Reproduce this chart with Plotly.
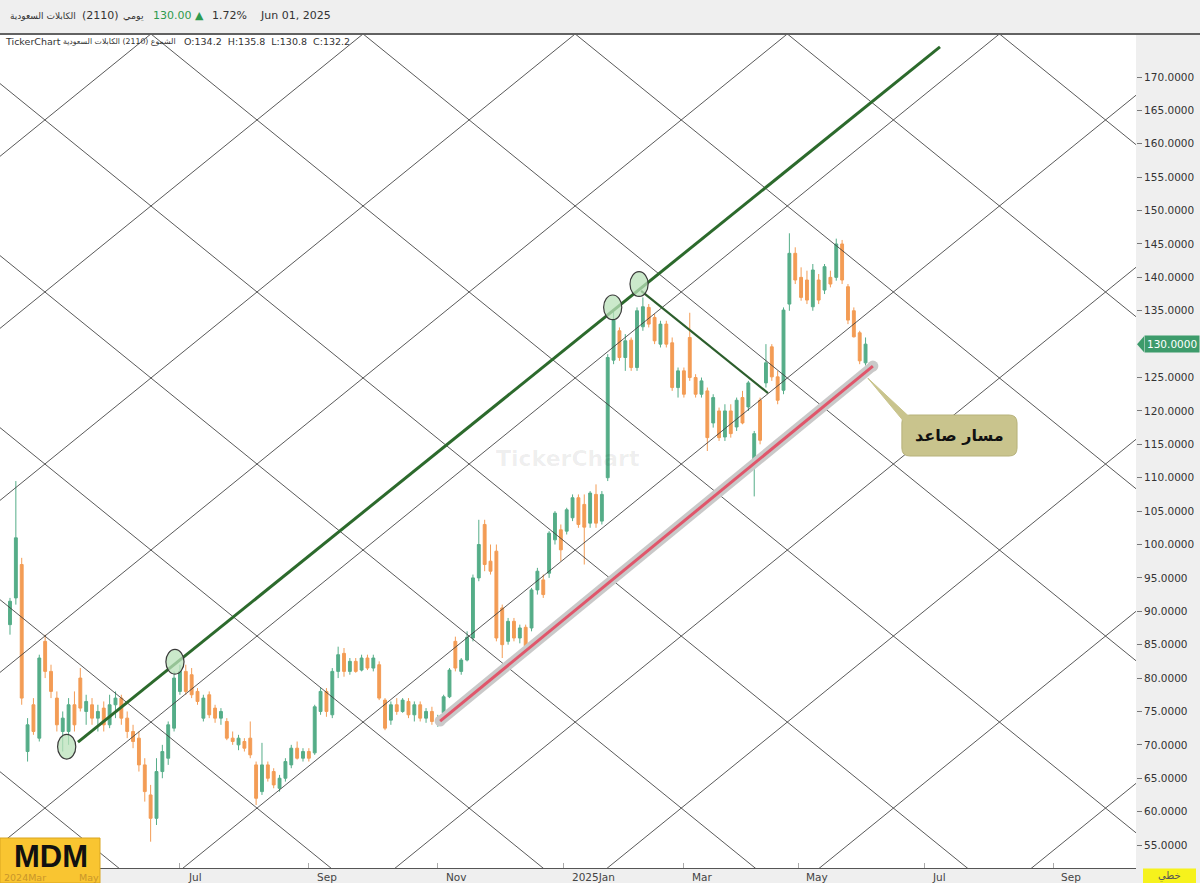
import pandas as pd
import plotly.graph_objects as go

# ---------------- trading calendar (Tadawul: Sun-Thu) ----------------
HOLIDAYS = ["2024-04-07", "2024-04-08", "2024-04-09", "2024-04-10", "2024-04-11", "2024-04-14",
            "2024-06-13", "2024-06-16", "2024-06-17", "2024-06-18", "2024-06-19", "2024-06-20",
            "2024-09-23", "2025-02-23",
            "2025-03-30", "2025-03-31", "2025-04-01", "2025-04-02", "2025-04-03"]
CAL = pd.bdate_range("2024-02-01", "2025-12-31", freq="C",
                     weekmask="Sun Mon Tue Wed Thu", holidays=HOLIDAYS)
ORIGIN = pd.Timestamp("2024-03-25")
I0 = CAL.get_loc(ORIGIN)


def bar(d):
    return int(CAL.get_indexer([pd.Timestamp(d)], method="bfill")[0] - I0)


# ---------------- price data (one candle per two sessions) ----------------
OPEN = [88, 92, 97, 69, 76, 71, 85.5, 81, 77, 72, 72, 76, 80, 75, 76, 74, 75.5, 73, 76, 77,
        74, 72, 71, 67, 62.5, 59, 66, 68, 72.5, 78, 81, 80.5, 78, 74, 77.5, 75.5, 74, 73.5, 71, 70,
        70.5, 71, 67, 63, 67, 66, 63.5, 65, 67, 69.5, 68, 69, 68.8, 75, 78, 74.5, 81, 83.7, 81, 82.5,
        81.2, 83, 81.5, 82, 76.7, 73.7, 76, 75, 76.5, 74.5, 76, 74, 75, 73.5, 74.8, 77.2, 85.5, 81, 82.7, 86,
        95, 103, 97.5, 99, 90.5, 85.5, 88.5, 86, 87.6, 87.5, 93.2, 94.7, 95.7, 100.7, 102.2, 102, 104, 107, 106, 103.2,
        107.5, 103.5, 110, 127.6, 132, 128, 130.6, 126.5, 132.6, 135.5, 134, 130, 133, 130.2, 123.5, 126, 131, 125, 122.5, 123,
        118.2, 120, 116.1, 120, 117.6, 122, 120.6, 112.6, 121.6, 124.2, 129.6, 125.1, 123.1, 136, 143.6, 140, 139.6, 135.6, 139.6, 138.1,
        140, 140, 145, 138.6, 135, 131.7, 127.2]
HIGH = [92, 109.5, 98, 74, 77, 83.5, 86.5, 82, 78, 75, 77, 78, 81.5, 77.5, 77, 76, 76.5, 77.5, 78, 77.5,
        75, 73, 72, 68, 64, 68, 70, 73.5, 81, 82, 82, 81.5, 78.5, 77.5, 78, 76, 75.5, 74, 72, 71.5,
        71, 73.5, 67.5, 70.3, 67.5, 66.5, 65.5, 68, 70, 70.5, 69.5, 69.5, 76, 78.5, 78.5, 81.5, 84.7, 84.5, 83, 83,
        83.5, 83.5, 83.5, 82.5, 77, 76.5, 77, 77, 77, 76.5, 76.5, 75.5, 75.7, 74.5, 77.5, 81.5, 86.2, 83, 87, 95.5,
        103.7, 103.7, 100, 100, 91, 89, 89, 88, 88, 93.5, 96.5, 95.5, 102, 105, 103, 105.5, 107.5, 107.5, 107.5, 108,
        109, 108, 128.5, 135.1, 132.5, 131.5, 131, 135.5, 137, 136, 134.5, 133.5, 133.5, 131, 126.5, 126.5, 134.7, 125.5, 125, 123.5,
        122.5, 120.5, 121, 121, 122, 123, 124.5, 117, 122, 130, 130, 126, 135.5, 146.6, 144.5, 141.5, 141, 142, 140.5, 142,
        141, 145.8, 145.6, 139, 135.5, 132, 131]
LOW = [86.5, 91, 76, 67.5, 71.5, 70.5, 80, 77, 72, 69, 70, 72, 75, 73, 73, 72, 72, 72.5, 74, 73,
       71, 69.5, 66, 61.5, 55.5, 58, 65, 67, 72, 77.5, 77.5, 77, 76, 73.5, 74, 73.3, 73, 70.7, 70, 69.2,
       69, 68, 61, 62.5, 64.5, 63.5, 63, 64.5, 66.5, 67.8, 67.5, 67.5, 68.5, 74.5, 74.2, 74, 80, 80.2, 80.5, 80.8,
       81, 81.2, 81, 76.7, 72.2, 73, 74.5, 74.8, 74, 73.5, 73.5, 73.3, 73, 72.7, 74, 77, 81, 80.5, 82.5, 85.5,
       94.5, 96, 95.5, 85.5, 83, 85, 85.5, 85.2, 84.3, 87, 92.5, 92, 95, 100, 97.5, 101.5, 103.5, 102.5, 97, 102.5,
       102.5, 103, 109.5, 127, 127.5, 126, 126, 126, 132, 132.5, 130, 129.5, 129.5, 123, 122, 122, 124.5, 122, 122, 114,
       117.5, 115.5, 115.5, 116, 117, 118, 120, 107.2, 115, 123.5, 124.5, 121, 122.5, 135, 139, 136.5, 136, 135, 136, 137.5,
       138.5, 139.5, 139, 133, 131, 127, 126.8]
CLOSE = [91.5, 101, 77, 73, 72, 83, 81, 78, 73, 74, 76, 73, 75.5, 76.5, 74, 75, 73, 76, 77, 74,
         72, 70.5, 67, 63, 59, 66, 69, 73, 80, 81, 78, 77.5, 76.5, 77, 74.5, 74, 75, 71, 70.5, 71,
         69.5, 68.5, 62, 67, 65, 64, 65, 67.5, 69.5, 68, 69, 68, 75.7, 78, 75, 81, 83.5, 81, 82.5, 81,
         83, 81.5, 83, 77, 72.5, 76, 75, 76.7, 74.5, 76, 74, 75, 73.5, 74, 77.2, 81.2, 81.5, 82.7, 86.1, 95,
         100, 97, 96, 86, 85, 88.5, 86, 87.5, 84.8, 93.2, 96, 92.5, 101.7, 104.7, 99.2, 105.2, 107, 103, 102.6, 107.7,
         103.2, 107.5, 128, 133.6, 128, 130.5, 126.5, 135, 135.6, 133, 130.5, 133, 130, 123.5, 126, 122.5, 125, 122.5, 124.5, 116,
         122, 116, 120, 116.6, 121.6, 118.2, 124.2, 116.6, 115.6, 127.2, 125.1, 121.6, 135.1, 143.6, 139.6, 137, 136.6, 141.1, 136.6, 141.6,
         139, 145, 139.6, 133.6, 131.1, 127.5, 130]
DATES = CAL[I0: I0 + 2 * len(CLOSE): 2]
X = [bar(d) for d in DATES]

# ---------------- axis labels ----------------
TICK_MONTHS = ["2024-05-01", "2024-07-01", "2024-09-01", "2024-11-01", "2025-01-01",
               "2025-03-01", "2025-05-01", "2025-07-01", "2025-09-01"]
TICK_TEXT = ["May", "Jul", "Sep", "Nov", "2025Jan", "Mar", "May", "Jul", "Sep"]
LAST_PRICE = 130.0
Y_TICKS = [v for v in range(55, 171, 5) if v != LAST_PRICE]

# ---------------- drawings (bar offset, price) ----------------
TOP_LINE = dict(bars=[23.2, 317.4], prices=[70.4, 174.5])
SUPPORT_LINE = dict(bars=[146.8, 294.5], prices=[73.56, 126.72])
DOWN_LINE = dict(bars=[215.4, 258.7], prices=[137.96, 122.68])
CIRCLES = dict(bars=[19.35, 56.3, 205.7, 214.7], prices=[69.72, 82.44, 135.51, 139.0])
GRID_ORIGIN = dict(bar=84.3, price=86.29)
GRID_SLOPE = 0.3558      # price per session
GRID_STEP = 25.76        # vertical spacing between parallel lines

X_RANGE = [-3.41, 384.3]
Y_RANGE = [51.56, 176.29]

GREEN = "#55ad88"
ORANGE = "#f39c55"

fig = go.Figure()

# Gann-style grid
gx = [X_RANGE[0] - 20, X_RANGE[1] + 20]
for n in range(-10, 11):
    for sgn in (1, -1):
        gy = [GRID_ORIGIN["price"] + sgn * GRID_SLOPE * (x - GRID_ORIGIN["bar"]) + GRID_STEP * n for x in gx]
        fig.add_trace(go.Scatter(x=gx, y=gy, mode="lines",
                                 line=dict(color="rgba(60,60,60,0.85)", width=1),
                                 hoverinfo="skip", showlegend=False))

# support line (grey halo + red)
fig.add_trace(go.Scatter(x=SUPPORT_LINE["bars"], y=SUPPORT_LINE["prices"], mode="lines+markers",
                         line=dict(color="#c9c9c9", width=10), marker=dict(size=11, color="#c9c9c9"),
                         hoverinfo="skip", showlegend=False))
fig.add_trace(go.Scatter(x=SUPPORT_LINE["bars"], y=SUPPORT_LINE["prices"], mode="lines",
                         line=dict(color="#e0566b", width=3), hoverinfo="skip", showlegend=False))

# candles
fig.add_trace(go.Candlestick(
    x=X, open=OPEN, high=HIGH, low=LOW, close=CLOSE,
    text=[d.strftime("%Y-%m-%d") for d in DATES],
    increasing=dict(line=dict(color=GREEN, width=1), fillcolor=GREEN),
    decreasing=dict(line=dict(color=ORANGE, width=1), fillcolor=ORANGE),
    whiskerwidth=0, showlegend=False, name="2110"))

# channel lines
fig.add_trace(go.Scatter(x=TOP_LINE["bars"], y=TOP_LINE["prices"], mode="lines",
                         line=dict(color="#2c6a2c", width=3), hoverinfo="skip", showlegend=False))
fig.add_trace(go.Scatter(x=DOWN_LINE["bars"], y=DOWN_LINE["prices"], mode="lines",
                         line=dict(color="#2c5e2c", width=2.2), hoverinfo="skip", showlegend=False))

shapes = []
# touch circles
for cx, cy in zip(CIRCLES["bars"], CIRCLES["prices"]):
    shapes.append(dict(type="circle", xref="x", yref="y", x0=cx - 3.1, x1=cx + 3.1,
                       y0=cy - 1.85, y1=cy + 1.85, fillcolor="rgba(185,225,185,0.75)",
                       line=dict(color="#3a3a3a", width=1.2), layer="above"))

# callout "مسار صاعد"
x0, x1, y0, y1 = 304.4, 343.7, 113.25, 119.39
rx, ry = 2.7, 1.2
box = (f"M {x0+rx},{y1} L {x1-rx},{y1} Q {x1},{y1} {x1},{y1-ry} L {x1},{y0+ry} "
       f"Q {x1},{y0} {x1-rx},{y0} L {x0+rx},{y0} Q {x0},{y0} {x0},{y0+ry} "
       f"L {x0},{y1-ry} Q {x0},{y1} {x0+rx},{y1} Z")
shapes.append(dict(type="path", xref="x", yref="y", path=box, fillcolor="#c9c48d",
                   line=dict(color="#b7b27b", width=1), layer="above"))
tail = "M 292.8,124.9 L 308.2,118.6 L 312.3,114.6 Z"
shapes.append(dict(type="path", xref="x", yref="y", path=tail, fillcolor="#c9c48d",
                   line=dict(color="#c9c48d", width=1), layer="above"))

PW = 1136.0
PH = 833.0


def px(xp):
    return xp / PW


def py(yp):
    return (868 - yp) / PH


# header border
shapes.append(dict(type="line", xref="paper", yref="paper", x0=0, x1=px(1200), y0=py(34), y1=py(34),
                   line=dict(color="#333", width=1.5)))
# last price tag arrow
shapes.append(dict(type="path", xref="paper", yref="y",
                   path=f"M {px(1137)},{LAST_PRICE} L {px(1144)},{LAST_PRICE + 1.2} L {px(1144)},{LAST_PRICE - 1.2} Z",
                   fillcolor="#3d9b6b", line=dict(width=0)))
# yellow "خطي" box
shapes.append(dict(type="rect", xref="paper", yref="paper", x0=px(1143), x1=px(1196), y0=py(883), y1=py(868.5),
                   fillcolor="#f6f21c", line=dict(width=0)))
# MDM logo
shapes.append(dict(type="rect", xref="paper", yref="paper", x0=0, x1=px(100), y0=py(883), y1=py(838),
                   fillcolor="#f9c531", line=dict(color="#d9a520", width=1), layer="above"))

ann = []
FONT = "DejaVu Sans"
HDR = dict(color="#333", size=11, family=FONT)
# header line 1
ann += [
    dict(x=px(78), y=py(16), text="الكابلات السعودية", xanchor="right",
         font=dict(color="#333", size=9, family=FONT)),
    dict(x=px(80), y=py(16), text="(2110)", xanchor="left"),
    dict(x=px(146), y=py(16), text="يومي", xanchor="right",
         font=dict(color="#333", size=9.5, family=FONT)),
    dict(x=px(151), y=py(16), text="130.00", xanchor="left", font=dict(color="#2e9a4e", size=11, family=FONT)),
    dict(x=px(193), y=py(16), text="▲", xanchor="left", font=dict(color="#2e9a4e", size=11, family=FONT)),
    dict(x=px(210), y=py(16), text="1.72%", xanchor="left"),
    dict(x=px(258), y=py(16), text="Jun 01, 2025", xanchor="left"),
]
for a in ann:
    a.setdefault("font", HDR)
# header line 2 (inside chart)
ann += [
    dict(x=px(3), y=py(41), text="TickerChart", xanchor="left",
         font=dict(color="#333", size=9.5, family=FONT)),
    dict(x=px(61), y=py(41), text="الشموع (2110) الكابلات السعودية", xanchor="left",
         font=dict(color="#333", size=7.8, family=FONT)),
    dict(x=px(182), y=py(41), text="O:134.2  H:135.8  L:130.8  C:132.2", xanchor="left",
         font=dict(color="#333", size=9.5, family=FONT)),
]

# x-axis labels (left aligned after the tick)
tick_bars = [bar(m) for m in TICK_MONTHS]
for tb, tt in zip(tick_bars, TICK_TEXT):
    faded = tb < 30
    ann.append(dict(x=tb + 2.0, y=py(877), xref="x", yref="paper", text=tt, xanchor="left",
                    font=dict(color="#c9962a" if faded else "#444", size=10.5 if not faded else 9.5,
                              family=FONT)))
ann.append(dict(x=px(2), y=py(877), text="2024Mar", xanchor="left",
                font=dict(color="#c9962a", size=9.5, family=FONT)))

# last price label
ann.append(dict(x=px(1144), y=LAST_PRICE, xref="paper", yref="y", text="130.0000", xanchor="left",
                bgcolor="#3d9b6b", borderpad=2, font=dict(color="white", size=10.5, family=FONT)))
# "خطي"
ann.append(dict(x=px(1169), y=py(876), text="خطي", xanchor="center",
                font=dict(color="#555", size=10, family=FONT)))
# MDM
ann.append(dict(x=px(51), y=py(856), text="<b>MDM</b>", xanchor="center",
                font=dict(color="#111", size=31, family="Liberation Sans")))
# watermark
ann.append(dict(x=px(568), y=py(458), text="<b>TickerChart</b>", xanchor="center",
                font=dict(color="rgba(0,0,0,0.07)", size=22, family=FONT)))
# callout text
ann.append(dict(x=(x0 + x1) / 2, y=(y0 + y1) / 2, xref="x", yref="y", text="<b>مسار صاعد</b>",
                xanchor="center", font=dict(color="#111", size=16, family=FONT)))

for a in ann:
    a.setdefault("xref", "paper")
    a.setdefault("yref", "paper")
    a.setdefault("showarrow", False)
    a.setdefault("yanchor", "middle")

fig.update_layout(
    width=1200, height=883,
    margin=dict(l=0, r=64, t=35, b=15),
    paper_bgcolor="#efefef", plot_bgcolor="white",
    shapes=shapes, annotations=ann,
    showlegend=False, hovermode=False,
    xaxis=dict(range=X_RANGE, showgrid=False, zeroline=False, rangeslider=dict(visible=False),
               tickvals=tick_bars, showticklabels=False, ticks="inside", ticklen=5,
               tickcolor="#aaa", showline=True, linecolor="#555", linewidth=1, fixedrange=True),
    yaxis=dict(range=Y_RANGE, side="right", showgrid=False, zeroline=False,
               tickvals=Y_TICKS, ticktext=[f"{v:.4f}" for v in Y_TICKS],
               ticks="outside", ticklen=5, tickcolor="#777",
               tickfont=dict(family=FONT, size=10.5, color="#333"), fixedrange=True),
)

fig.write_html("out.html")
